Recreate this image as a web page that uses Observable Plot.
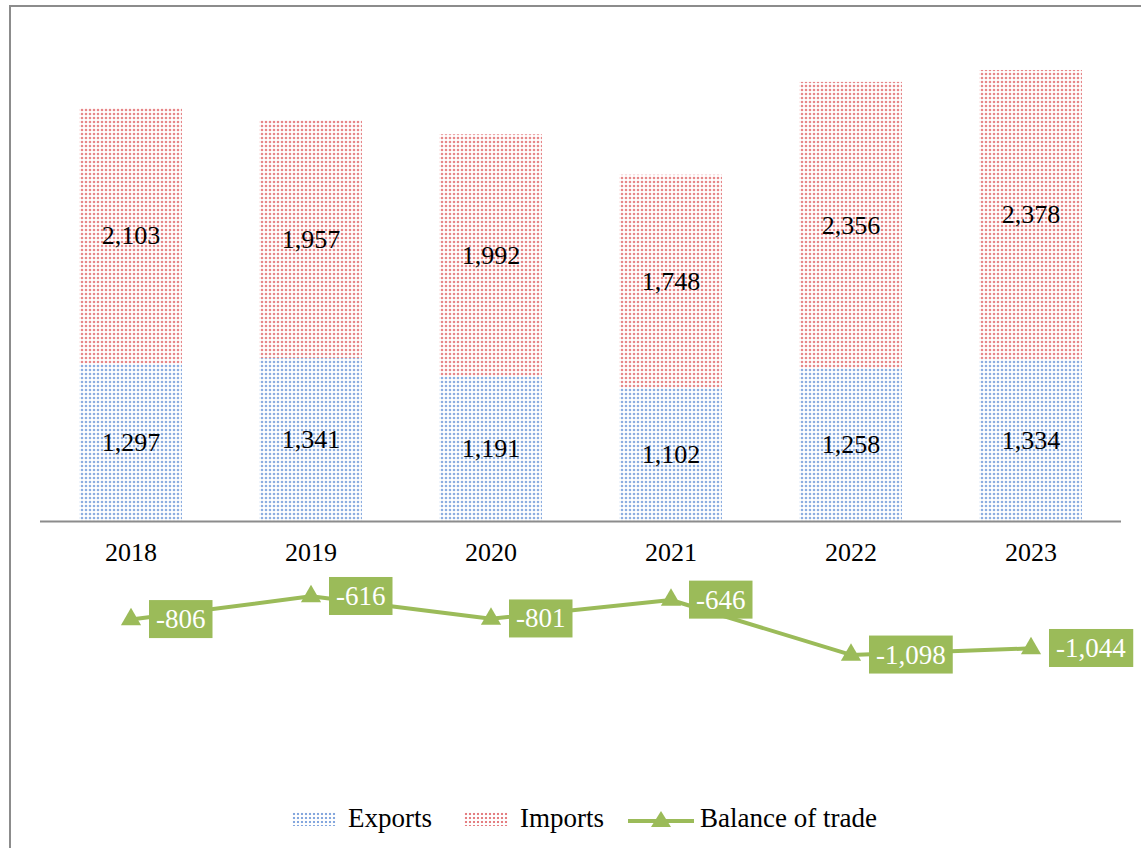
<!DOCTYPE html>
<html>
<head>
<meta charset="utf-8">
<script src="https://cdn.jsdelivr.net/npm/d3@7"></script>
<script src="https://cdn.jsdelivr.net/npm/@observablehq/plot@0.6"></script>
<style>
  html, body { margin: 0; padding: 0; background: #fff; }
  body { width: 1141px; height: 848px; position: relative; overflow: hidden; font-family: "Liberation Serif", "Times New Roman", serif; }
  #frame { position: absolute; left: 9px; top: 5px; width: 1200px; height: 900px; border-left: 2px solid #8c8c8c; border-top: 2px solid #8c8c8c; box-sizing: border-box; }
  #chart { position: absolute; left: 0; top: 0; }
  #legend { position: absolute; left: 0; top: 803px; width: 1141px; padding-left: 28px; box-sizing: border-box; display: flex; justify-content: center; align-items: center; font-size: 27px; color: #000; }
  .item { display: flex; align-items: center; }
  .patch { width: 44px; height: 14px; margin-right: 12px; }
  .exp { background: radial-gradient(circle, rgba(79,129,208,0.7) 1px, rgba(255,255,255,0) 1.6px) 0 0 / 4px 4px; }
  .imp { background: radial-gradient(circle, rgba(217,70,74,0.7) 1px, rgba(255,255,255,0) 1.6px) 0 0 / 4px 4px; }
</style>
</head>
<body>
<div id="frame"></div>
<div id="chart"></div>
<div id="legend">
  <div class="item" style="margin-right:32px"><div class="patch exp"></div><span>Exports</span></div>
  <div class="item" style="margin-right:24px"><div class="patch imp"></div><span>Imports</span></div>
  <div class="item"><svg width="66" height="24" style="margin-right:6px"><line x1="0" y1="14" x2="66" y2="14" stroke="#9bbb59" stroke-width="4"/><path d="M33,4 L43,20 L23,20 Z" fill="#9bbb59"/></svg><span>Balance of trade</span></div>
</div>
<script>
const years = ["2018", "2019", "2020", "2021", "2022", "2023"];
const exportsValues = [1297, 1341, 1191, 1102, 1258, 1334];
const importsValues = [2103, 1957, 1992, 1748, 2356, 2378];
const balanceValues = [-806, -616, -801, -646, -1098, -1044];
const seriesNames = ["Exports", "Imports"];

const green = "#9bbb59";
const fmt = v => v.toLocaleString("en-US");

const barData = [];
years.forEach((y, i) => {
  barData.push({year: y, series: "Exports", value: exportsValues[i]});
  barData.push({year: y, series: "Imports", value: importsValues[i]});
});
const balData = years.map((y, i) => ({year: y, value: balanceValues[i]}));

const chart = Plot.plot({
  width: 1141,
  height: 790,
  marginLeft: 40,
  marginRight: 20,
  marginTop: 35,
  marginBottom: 26,
  style: {fontFamily: "'Liberation Serif', 'Times New Roman', serif", background: "transparent"},
  x: {domain: years, paddingInner: 0.43, paddingOuter: 0.215, axis: null},
  y: {domain: [-2000, 4000], axis: null},
  color: {domain: seriesNames, range: ["url(#pExp)", "url(#pImp)"]},
  marks: [
    Plot.barY(barData, {x: "year", y: "value", fill: "series", order: seriesNames}),
    Plot.ruleY([0], {stroke: "#8c8c8c", strokeWidth: 2}),
    Plot.text(barData, Plot.stackY({x: "year", y: "value", z: "series", order: seriesNames, text: d => fmt(d.value), fontSize: 26, fill: "#000"})),
    Plot.text(years, {x: d => d, y: 0, dy: 31, text: d => d, fontSize: 26, fill: "#000"}),
    Plot.line(balData, {x: "year", y: "value", stroke: green, strokeWidth: 4}),
    Plot.dot(balData, {x: "year", y: "value", symbol: "triangle", r: 7.5, fill: green, stroke: "none"}),
    Plot.text(balData, {x: "year", y: "value", text: d => fmt(d.value), textAnchor: "start", dx: 25, fontSize: 27, fill: "#fff", className: "ballab"})
  ]
});

document.getElementById("chart").appendChild(chart);

// pattern definitions for the dotted bar fills
const svg = d3.select(chart);
const defs = svg.insert("defs", ":first-child");
function addPattern(id, color) {
  const p = defs.append("pattern").attr("id", id).attr("patternUnits", "userSpaceOnUse").attr("width", 4).attr("height", 4);
  p.append("rect").attr("width", 4).attr("height", 4).attr("fill", "#fff");
  p.append("circle").attr("cx", 2).attr("cy", 2).attr("r", 1.3).attr("fill", color).attr("fill-opacity", 0.65);
}
addPattern("pExp", "#4f81d0");
addPattern("pImp", "#d9464a");

// green label boxes behind balance labels
svg.selectAll("g.ballab text").each(function() {
  const b = this.getBBox();
  const cy = b.y + b.height / 2;
  const r = d3.select(this.parentNode).insert("rect", () => this)
    .attr("x", b.x - 7).attr("y", cy - 19)
    .attr("width", b.width + 14).attr("height", 38)
    .attr("fill", green);
  const t = this.getAttribute("transform");
  if (t) r.attr("transform", t);
});
</script>
</body>
</html>
